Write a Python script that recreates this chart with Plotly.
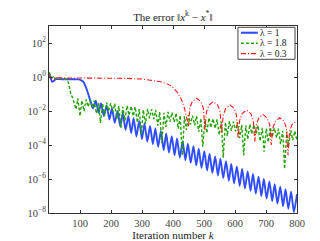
import numpy as np
import plotly.graph_objects as go

# ---------------- data (log10 of the error) ----------------
# lambda = 1 (blue, solid)
blue_start_k = [0, 4, 10, 16, 22, 40, 60, 80, 95, 104, 112, 118, 124, 130, 136]
blue_start_log = [0.25, 0.0, -0.28, -0.22, -0.13, -0.13, -0.13, -0.13, -0.14, -0.2, -0.32, -0.55, -0.85, -1.2, -1.55]
blue_trough_k = [142, 160, 177, 195, 212, 230, 247, 265, 282, 300, 317, 335, 352, 370, 387, 405, 422, 440, 457,
                 475, 492, 510, 527, 545, 562, 580, 597, 615, 632, 650, 667, 685, 702, 720, 737, 755, 772, 790]
blue_trough_log = [-1.85, -2.1, -2.3, -2.5, -2.7, -2.9, -3.1, -3.3, -3.5, -3.65, -3.8, -3.95, -4.1, -4.3, -4.45,
                   -4.6, -4.75, -4.9, -5.05, -5.2, -5.35, -5.5, -5.65, -5.8, -5.95, -6.1, -6.25, -6.4, -6.55,
                   -6.7, -6.85, -7.0, -7.15, -7.3, -7.45, -7.6, -7.75, -7.95]
blue_peak_k = [151, 168, 186, 203, 221, 238, 256, 273, 291, 308, 326, 343, 361, 378, 396, 413, 431, 448, 466,
               483, 501, 518, 536, 553, 571, 588, 606, 623, 641, 658, 676, 693, 711, 728, 746, 763, 781, 800]
blue_peak_log = [-1.39, -1.54, -1.69, -1.84, -1.99, -2.13, -2.29, -2.43, -2.58, -2.73, -2.88, -3.03, -3.18,
                 -3.32, -3.48, -3.62, -3.77, -3.92, -4.07, -4.22, -4.37, -4.51, -4.67, -4.81, -4.96, -5.11,
                 -5.26, -5.41, -5.56, -5.70, -5.86, -6.00, -6.15, -6.30, -6.45, -6.60, -6.75, -6.89]

# lambda = 1.8 (green, dashed)
green_start_k = [0, 3, 6, 10, 14, 18, 25, 30, 40, 50, 58, 63, 67, 71, 76]
green_start_log = [0.28, 0.15, 0.05, -0.05, 0.0, -0.1, -0.05, -0.12, -0.08, -0.1, -0.15, -0.35, -0.7, -1.05, -1.2]
green_trough_k = [87, 100, 113, 126, 140, 153, 166, 179, 192, 206, 219, 232, 245, 258, 272, 285, 298, 311,
                  324, 338, 351, 364, 377, 390, 404, 417, 430, 443, 456, 470, 483, 496, 509, 522, 536, 549,
                  562, 575, 588, 602, 615, 628, 641, 654, 668, 681, 694, 707, 720, 734, 747, 760, 773, 786, 800]
green_trough_log = [-1.9, -2.3, -2.0, -1.75, -1.8, -2.15, -2.7, -2.3, -2.0, -2.05, -2.45, -3.0, -2.55, -2.25,
                    -2.3, -2.68, -3.4, -2.75, -2.43, -2.47, -2.86, -3.9, -2.93, -2.62, -2.66, -3.04, -4.6,
                    -3.11, -2.8, -2.84, -3.22, -4.1, -3.3, -2.98, -3.02, -3.41, -4.75, -3.48, -3.16, -3.2,
                    -3.59, -4.6, -3.66, -3.35, -3.38, -3.77, -4.4, -3.84, -3.53, -3.57, -3.95, -5.4, -4.02,
                    -3.71, -3.75]
green_peak_k = [93, 106, 120, 133, 146, 160, 173, 186, 199, 212, 225, 238, 252, 265, 278, 291, 304, 318, 331,
                344, 357, 371, 384, 397, 410, 423, 437, 450, 463, 476, 490, 503, 516, 529, 542, 556, 569, 582,
                595, 608, 622, 635, 648, 661, 674, 688, 701, 714, 727, 740, 754, 767, 780, 793]
green_peak_log = [-1.25, -1.38, -1.32, -1.36, -1.39, -1.53, -1.57, -1.50, -1.54, -1.57, -1.71, -1.75, -1.69,
                  -1.72, -1.76, -1.89, -1.93, -1.87, -1.90, -1.94, -2.07, -2.11, -2.05, -2.09, -2.12, -2.26,
                  -2.30, -2.23, -2.27, -2.30, -2.44, -2.48, -2.41, -2.45, -2.49, -2.63, -2.66, -2.60, -2.63,
                  -2.67, -2.81, -2.84, -2.78, -2.81, -2.85, -2.99, -3.03, -2.96, -3.00, -3.04, -3.17, -3.21,
                  -3.14, -3.18]

# lambda = 0.3 (red, dash-dot)
red_k = [0, 5, 10, 20, 50, 100, 150, 200, 250, 300, 330, 360, 384, 400, 416, 428, 438, 446, 450,
         454, 462, 476, 490, 498, 503,
         508, 516, 530, 544, 552, 557,
         562, 570, 584, 598, 605, 610,
         615, 623, 637, 651, 659, 664,
         669, 677, 690, 703, 712, 717,
         722, 730, 744, 758, 766, 771,
         776, 784, 798, 800]
red_log = [0.12, 0.0, -0.1, -0.05, -0.05, -0.05, -0.05, -0.06, -0.08, -0.12, -0.18, -0.28, -0.42, -0.62,
           -0.95, -1.35, -1.9, -2.5, -2.9,
           -1.85, -1.45, -1.25, -1.45, -1.85, -3.1,
           -2.05, -1.65, -1.45, -1.65, -2.05, -3.3,
           -2.25, -1.85, -1.65, -1.85, -2.25, -3.6,
           -2.55, -2.15, -1.95, -2.15, -2.55, -3.8,
           -2.8, -2.4, -2.2, -2.4, -2.8, -4.0,
           -3.0, -2.6, -2.4, -2.6, -3.0, -4.6,
           -3.2, -2.8, -2.6, -2.6]

series_names = ["λ = 1", "λ = 1.8", "λ = 0.3"]
x_ticks = [100, 200, 300, 400, 500, 600, 700, 800]
y_tick_exp = [-8, -6, -4, -2, 0, 2]


def merge(start_k, start_v, a_k, a_v, b_k, b_v):
    k = np.concatenate([start_k, a_k, b_k])
    v = np.concatenate([start_v, a_v, b_v])
    order = np.argsort(k, kind="stable")
    return k[order], 10.0 ** v[order]


bk, bv = merge(blue_start_k, blue_start_log, blue_trough_k, blue_trough_log, blue_peak_k, blue_peak_log)
gk, gv = merge(green_start_k, green_start_log, green_trough_k, green_trough_log, green_peak_k, green_peak_log)
rk, rv = np.array(red_k), 10.0 ** np.array(red_log)

SERIF = "Liberation Serif, DejaVu Serif, serif"
colors = ["#2f4dff", "#22a000", "#ff1a1a"]
widths = [1.9, 1.4, 1.1]
dashes = ["solid", "3px,2px", "5px,2px,1px,2px"]

fig = go.Figure()
fig.add_trace(go.Scatter(x=bk, y=bv, mode="lines", name=series_names[0],
                         line=dict(color=colors[0], width=widths[0], shape="spline", smoothing=0.6)))
fig.add_trace(go.Scatter(x=gk, y=gv, mode="lines", name=series_names[1],
                         line=dict(color=colors[1], width=widths[1], dash=dashes[1])))
fig.add_trace(go.Scatter(x=rk, y=rv, mode="lines", name=series_names[2],
                         line=dict(color=colors[2], width=widths[2], dash=dashes[2])))

# compact legend box (paper coordinates; plot area is 248 x 196 px)
shapes = [dict(type="rect", xref="paper", yref="paper", x0=0.762, x1=0.992, y0=0.822, y1=0.993,
               line=dict(color="#444444", width=1), fillcolor="white", layer="above")]
annotations = []
row_y = [0.964, 0.908, 0.852]
for i in range(3):
    shapes.append(dict(type="line", xref="paper", yref="paper", x0=0.774, x1=0.842, y0=row_y[i], y1=row_y[i],
                       line=dict(color=colors[i], width=widths[i] + 0.2, dash=dashes[i]), layer="above"))
    annotations.append(dict(xref="paper", yref="paper", x=0.846, y=row_y[i], xanchor="left", yanchor="middle",
                            text=series_names[i], showarrow=False, borderpad=0,
                            font=dict(family=SERIF, size=9.5, color="#222222")))

fig.update_layout(
    width=320, height=241,
    margin=dict(l=41, r=31, t=18, b=27),
    paper_bgcolor="white", plot_bgcolor="white",
    font=dict(family=SERIF, size=11, color="#444444"),
    title=dict(text="The error ‖<i>x</i><sup>k</sup> − <i>x</i><sup>*</sup>‖",
               x=0.515, xanchor="center", y=0.962, yanchor="middle", yref="container",
               font=dict(family=SERIF, size=11, color="#222222")),
    showlegend=False,
    shapes=shapes,
    annotations=annotations,
    hovermode=False,
)
fig.update_xaxes(range=[0, 800], tickvals=x_ticks, ticktext=[str(t) for t in x_ticks],
                 ticks="inside", ticklen=3, tickcolor="#333", showline=True, linecolor="#333",
                 linewidth=1, mirror="ticks", showgrid=False, zeroline=False,
                 tickfont=dict(size=10.5),
                 title=dict(text="Iteration number <i>k</i>", standoff=1, font=dict(size=11, color="#222")))
fig.update_yaxes(type="log", range=[-8, 3], tickvals=[10.0 ** e for e in y_tick_exp],
                 ticktext=["10<sup>%s</sup>" % (str(e).replace("-", "−")) for e in y_tick_exp],
                 ticks="inside", ticklen=3, tickcolor="#333", showline=True, linecolor="#333",
                 linewidth=1, mirror="ticks", showgrid=False, zeroline=False,
                 tickfont=dict(size=10.5))

fig.write_html("out.html", config={"displayModeBar": False})
